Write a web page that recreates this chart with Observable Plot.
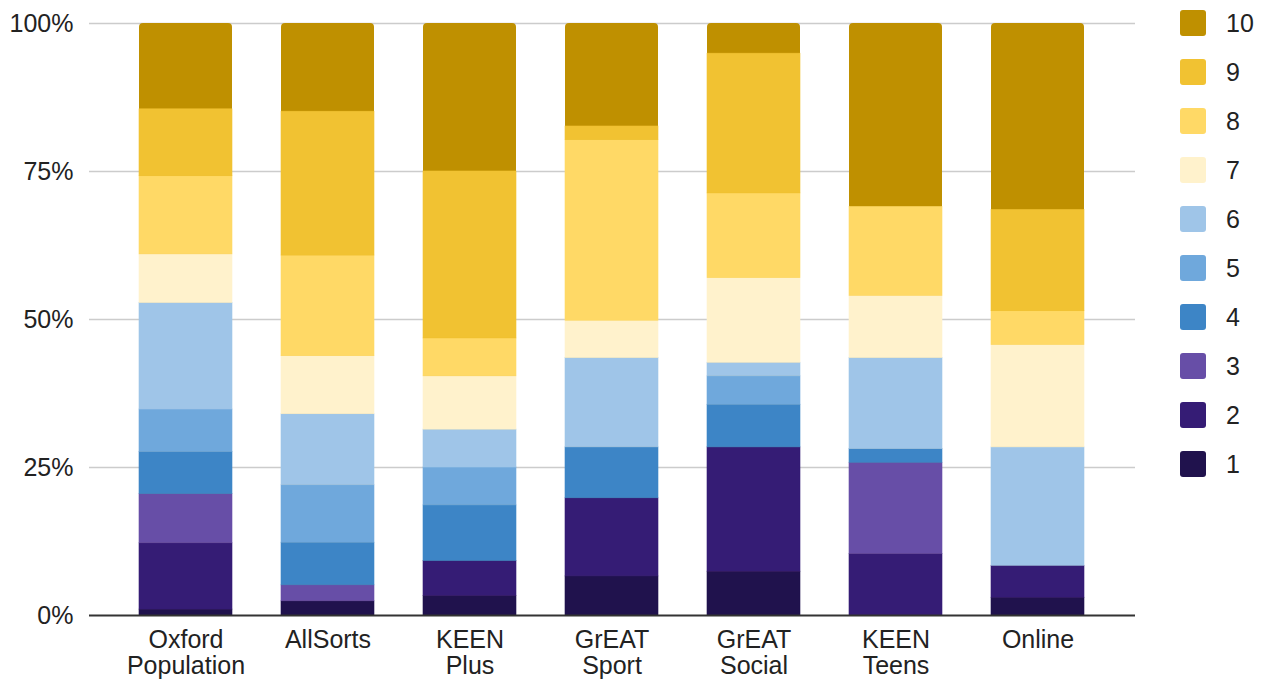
<!DOCTYPE html>
<html><head><meta charset="utf-8">
<script src="https://cdn.jsdelivr.net/npm/d3@7"></script>
<script src="https://cdn.jsdelivr.net/npm/@observablehq/plot@0.6"></script>
<style>
body{margin:0;background:#fff;font-family:"Liberation Sans",Arial,sans-serif;}
#wrap{position:relative;width:1264px;height:681px;overflow:hidden;}
#chart{position:absolute;left:0;top:0;}
#legend{position:absolute;left:1180px;top:0;width:84px;height:681px;}
.item{position:absolute;left:0;height:26px;display:flex;align-items:center;width:84px;}
.sw{width:26px;height:26px;border-radius:3px;flex:none;}
.lb{margin-left:20px;font-size:25px;color:#222;line-height:26px;}
</style></head>
<body><div id="wrap"><div id="chart"></div><div id="legend"></div></div>
<script>
// Categories (x axis)
const groups = ["Oxford\nPopulation", "AllSorts", "KEEN\nPlus", "GrEAT\nSport", "GrEAT\nSocial", "KEEN\nTeens", "Online"];
// Series (scores 1..10), bottom to top
const scores = ["1", "2", "3", "4", "5", "6", "7", "8", "9", "10"];
const colors = ["#20124d", "#351c75", "#674ea7", "#3d85c6", "#6fa8dc", "#9fc5e8", "#fff2cc", "#ffd966", "#f1c232", "#bf9000"];
// Percent share per score, one value per group (in groups order)
const s1  = [1.0, 2.4, 3.3, 6.6, 7.4, 0.0, 3.0];
const s2  = [11.2, 0.0, 5.9, 13.2, 21.0, 10.4, 5.4];
const s3  = [8.3, 2.7, 0.0, 0.0, 0.0, 15.4, 0.0];
const s4  = [7.1, 7.2, 9.4, 8.6, 7.2, 2.3, 0.0];
const s5  = [7.2, 9.7, 6.4, 0.0, 4.8, 0.0, 0.0];
const s6  = [18.0, 12.0, 6.4, 15.1, 2.3, 15.4, 20.0];
const s7  = [8.2, 9.8, 9.0, 6.3, 14.3, 10.5, 17.3];
const s8  = [13.2, 17.0, 6.4, 30.5, 14.3, 15.0, 5.7];
const s9  = [11.3, 24.3, 28.2, 2.3, 23.6, 0.0, 17.1];
const s10 = [14.5, 14.9, 25.0, 17.4, 5.1, 31.0, 31.5];
// Y axis tick values
const yTicks = [0, 25, 50, 75, 100];

const series = [s1, s2, s3, s4, s5, s6, s7, s8, s9, s10];

// Build stacked rows (normalised to 100%)
const rows = [];
groups.forEach((g, i) => {
  const total = d3.sum(series, s => s[i]);
  let cum = 0;
  series.forEach((s, j) => {
    const v = s[i] / total * 100;
    rows.push({group: g, score: scores[j], y1: cum, y2: cum + v});
    cum += v;
  });
});
const topRows = rows.filter(d => d.score === "10").map(d => ({...d, y1: 0}));
const lowerRows = rows.filter(d => d.score !== "10" && d.y2 > d.y1);

const chart = Plot.plot({
  width: 1150,
  height: 681,
  marginLeft: 89,
  marginRight: 15,
  marginTop: 23,
  marginBottom: 66,
  style: {fontFamily: "'Liberation Sans', Arial, sans-serif", fontSize: "25px", background: "transparent"},
  x: {domain: groups, padding: 0.344, label: null},
  y: {domain: [0, 100], label: null},
  color: {domain: scores, range: colors},
  marks: [
    Plot.ruleY(yTicks.filter(t => t > 0), {stroke: "#cccccc", strokeWidth: 1.5}),
    Plot.barY(topRows, {x: "group", y1: "y1", y2: "y2", fill: "score", rx: 4}),
    Plot.barY(lowerRows, {x: "group", y1: "y1", y2: "y2", fill: "score", stroke: "score", strokeWidth: 0.6}),
    Plot.ruleY([0], {stroke: "#333333", strokeWidth: 2}),
    Plot.axisY({ticks: yTicks, tickFormat: d => d + "%", tickSize: 0, tickPadding: 16, fill: "#222", label: null}),
    Plot.axisX({tickSize: 0, tickPadding: 14, lineHeight: 1.05, fill: "#222", label: null})
  ]
});
document.getElementById("chart").appendChild(chart);

// Legend (top to bottom: 10 .. 1)
const legend = document.getElementById("legend");
scores.slice().reverse().forEach((s, k) => {
  const item = document.createElement("div");
  item.className = "item";
  item.style.top = (10 + k * 49) + "px";
  const sw = document.createElement("div");
  sw.className = "sw";
  sw.style.background = colors[scores.indexOf(s)];
  const lb = document.createElement("span");
  lb.className = "lb";
  lb.textContent = s;
  item.appendChild(sw);
  item.appendChild(lb);
  legend.appendChild(item);
});
</script>
</body></html>
